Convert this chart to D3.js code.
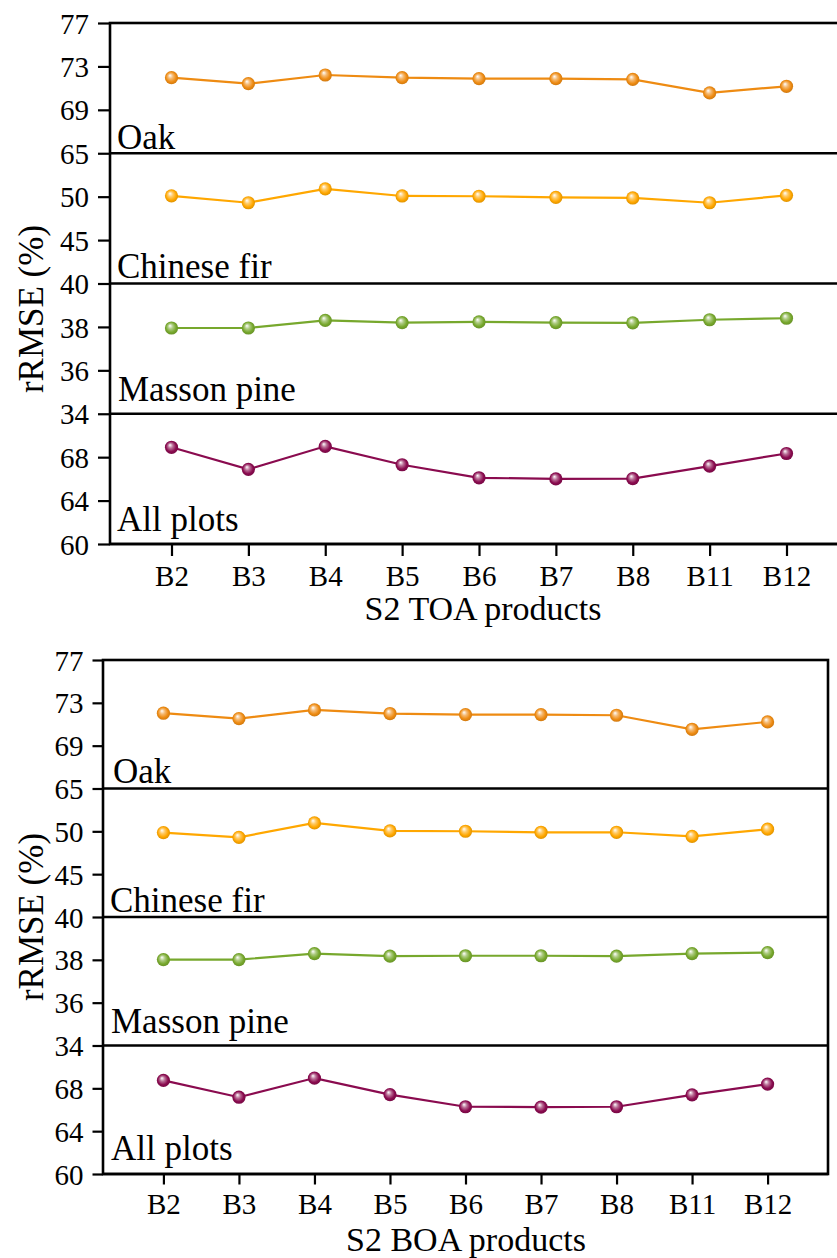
<!DOCTYPE html>
<html><head><meta charset="utf-8">
<script src="https://cdn.jsdelivr.net/npm/d3@7"></script>
<style>body{margin:0;background:#fff}svg{display:block}text{font-family:"Liberation Serif","Times New Roman",serif;fill:#000}</style>
</head><body>
<svg id="c" width="837" height="1258"></svg>
<script>
// ---- data ----
const bands = ["B2","B3","B4","B5","B6","B7","B8","B11","B12"];
const species = ["Oak","Chinese fir","Masson pine","All plots"];
const toaOak  = [71.96,71.41,72.21,71.96,71.87,71.87,71.81,70.56,71.17];
const toaFir  = [50.10,49.30,50.90,50.08,50.05,49.92,49.85,49.30,50.15];
const toaPine = [37.95,37.95,38.30,38.20,38.23,38.20,38.19,38.33,38.40];
const toaAll  = [68.91,66.88,69.00,67.30,66.10,66.00,66.03,67.18,68.34];
const boaOak  = [72.03,71.53,72.34,72.00,71.90,71.90,71.84,70.53,71.22];
const boaFir  = [49.85,49.30,50.98,50.05,50.01,49.89,49.89,49.42,50.25];
const boaPine = [38.01,38.01,38.29,38.17,38.19,38.19,38.17,38.29,38.34];
const boaAll  = [68.74,67.17,68.96,67.42,66.28,66.25,66.28,67.39,68.40];
const domains = [[65,77],[40,55],[34,40],[60,72]];
const tickVals = [[65,69,73,77],[40,45,50],[34,36,38],[60,64,68]];
const colors = ["#ee8b12","#ffa700","#77a82d","#8a0b4f"];
const xTitles = ["S2 TOA products","S2 BOA products"];
const yTitle = "rRMSE (%)";

// ---- layout ----
const layouts = [
  {left:110,right:848,top:23,bottom:544,tick:12,ylabY:309,xTitleX:483,xTitleY:620,xLabDy:42,
   labX:[7,7,8,7],labUp:[4,6,13,13],series:[toaOak,toaFir,toaPine,toaAll]},
  {left:103,right:828,top:660,bottom:1174,tick:10.5,ylabY:917,xTitleX:466,xTitleY:1251,xLabDy:40,
   labX:[10,7,8,8],labUp:[6,5,13,14.5],series:[boaOak,boaFir,boaPine,boaAll]}
];

const svg = d3.select("#c");
const defs = svg.append("defs");
colors.forEach((c,i)=>{
  const g = defs.append("radialGradient").attr("id","g"+i)
    .attr("cx","0.5").attr("cy","0.5").attr("r","0.55").attr("fx","0.38").attr("fy","0.32");
  g.append("stop").attr("offset","0").attr("stop-color","#ffffff");
  g.append("stop").attr("offset","0.35").attr("stop-color",d3.interpolateRgb("#ffffff",c)(0.6));
  g.append("stop").attr("offset","0.7").attr("stop-color",c);
  g.append("stop").attr("offset","1").attr("stop-color",d3.color(c).darker(0.5));
});

layouts.forEach((L,ci)=>{
  const G = svg.append("g");
  const ph = (L.bottom-L.top)/4;
  const x = d3.scalePoint().domain(bands).range([L.left,L.right]).padding(0.8);

  species.forEach((sp,pi)=>{
    const y0 = L.top+pi*ph, y1 = y0+ph;
    const y = d3.scaleLinear().domain(domains[pi]).range([y1,y0]);
    const ax = G.append("g").attr("transform",`translate(${L.left},0)`)
      .call(d3.axisLeft(y).tickValues(tickVals[pi]).tickSize(L.tick).tickPadding(9).tickFormat(d3.format("d")));
    ax.select(".domain").remove();
    ax.selectAll("line").attr("stroke","#000").attr("stroke-width",2.2);
    ax.selectAll("text").style("font-size","29px").attr("dy","0.35em");
    const vals = L.series[pi];
    G.append("path").datum(vals)
      .attr("fill","none").attr("stroke",colors[pi]).attr("stroke-width",2.2)
      .attr("d",d3.line().x((d,i)=>x(bands[i])).y(d=>y(d)));
    G.selectAll(null).data(vals).enter().append("circle")
      .attr("cx",(d,i)=>x(bands[i])).attr("cy",d=>y(d)).attr("r",6.6)
      .attr("fill",`url(#g${pi})`);
    G.append("text").attr("x",L.left+L.labX[pi]).attr("y",y1-L.labUp[pi])
      .style("font-size","35px").text(sp);
    G.append("line").attr("x1",L.left).attr("x2",L.right).attr("y1",y1).attr("y2",y1)
      .attr("stroke","#000").attr("stroke-width",2.6);
  });
  G.append("rect").attr("x",L.left).attr("y",L.top).attr("width",L.right-L.left).attr("height",L.bottom-L.top)
    .attr("fill","none").attr("stroke","#000").attr("stroke-width",2.6);
  const xa = G.append("g").attr("transform",`translate(0,${L.bottom})`)
    .call(d3.axisBottom(x).tickSize(L.tick));
  xa.select(".domain").remove();
  xa.selectAll("line").attr("stroke","#000").attr("stroke-width",2.2);
  xa.selectAll("text").style("font-size","29px").attr("y",L.xLabDy).attr("dy","0");
  G.append("text").attr("x",L.xTitleX).attr("y",L.xTitleY).attr("text-anchor","middle")
    .style("font-size","34px").text(xTitles[ci]);
  G.append("text").attr("transform",`translate(43,${L.ylabY}) rotate(-90)`).attr("text-anchor","middle")
    .style("font-size","35px").text(yTitle);
});
</script>
</body></html>
